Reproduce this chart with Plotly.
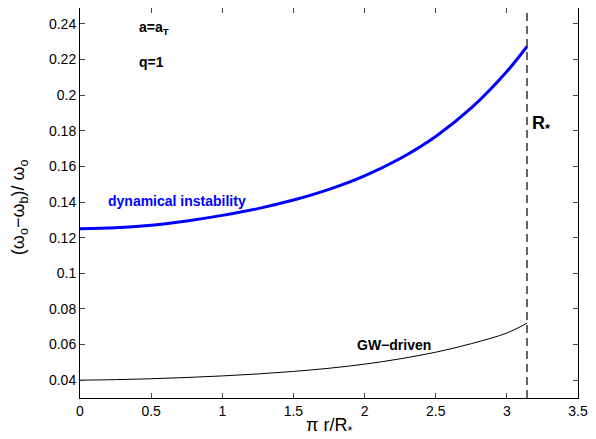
import math
import plotly.graph_objects as go

# pi r / R_*  sample points
x_pts = [0, 0.25, 0.5, 0.75, 1.0, 1.25, 1.5, 1.75, 2.0, 2.25, 2.5, 2.75, 3.0, math.pi]
# dynamical instability (blue)
dyn = [0.1250, 0.1255, 0.1270, 0.1294, 0.1325, 0.1363, 0.1411, 0.1471, 0.1547, 0.1644, 0.1768, 0.1928, 0.2133, 0.2273]
# GW-driven (black)
gw = [0.0400, 0.0403, 0.0408, 0.0415, 0.0424, 0.0435, 0.0449, 0.0467, 0.0490, 0.0520, 0.0557, 0.0605, 0.0665, 0.0720]

rstar = [math.pi, math.pi]
rstar_y = [0.03, 0.25]

xticks = [0, 0.5, 1, 1.5, 2, 2.5, 3, 3.5]
xlabels = ["0", "0.5", "1", "1.5", "2", "2.5", "3", "3.5"]
yticks = [0.04, 0.06, 0.08, 0.1, 0.12, 0.14, 0.16, 0.18, 0.2, 0.22, 0.24]
ylabels = ["0.04", "0.06", "0.08", "0.1", "0.12", "0.14", "0.16", "0.18", "0.2", "0.22", "0.24"]

fig = go.Figure()
fig.add_trace(go.Scatter(x=x_pts, y=dyn, mode="lines", line=dict(color="#0000ff", width=3, shape="spline")))
fig.add_trace(go.Scatter(x=x_pts, y=gw, mode="lines", line=dict(color="black", width=1, shape="spline")))
fig.add_trace(go.Scatter(x=rstar, y=rstar_y, mode="lines", line=dict(color="black", width=1.2, dash="8px,5px")))

font = "Liberation Sans, Arial, sans-serif"
annots = [
    dict(x=0.4, y=0.2375, text="<b>a=a<sub>T</sub></b>", font=dict(size=14, color="black")),
    dict(x=0.4, y=0.2185, text="<b>q=1</b>", font=dict(size=14, color="black")),
    dict(x=0.18, y=0.1405, text="<b>dynamical instability</b>", font=dict(size=14, color="#0000ff")),
    dict(x=1.93, y=0.0597, text="<b>GW\u2212driven</b>", font=dict(size=14, color="black")),
    dict(x=3.16, y=0.1835, text="<b>R<sub>*</sub></b>", font=dict(size=18, color="black")),
]
for a in annots:
    a.update(xref="x", yref="y", showarrow=False, xanchor="left", yanchor="middle")

# axis titles as paper annotations so the plot box stays put
annots.append(dict(xref="paper", yref="paper", x=0.5, y=-0.074, showarrow=False,
                   xanchor="center", yanchor="middle",
                   text="\u03c0 r/R<sub>*</sub>", font=dict(size=18)))
annots.append(dict(xref="paper", yref="paper", x=-0.12, y=0.49, showarrow=False,
                   xanchor="center", yanchor="middle", textangle=-90,
                   text="(\u03c9<sub>o</sub>\u2212\u03c9<sub>b</sub>)/ \u03c9<sub>o</sub>", font=dict(size=18)))

# page body has an 8px margin, so the figure is 8px smaller and shifted
fig.update_layout(
    width=588, height=431,
    margin=dict(l=72, r=18, t=0, b=41),
    paper_bgcolor="white", plot_bgcolor="white",
    showlegend=False,
    font=dict(family=font, size=14, color="black"),
    annotations=annots,
    xaxis=dict(range=[0, 3.5], tickvals=xticks, ticktext=xlabels, ticks="inside", ticklen=5,
               showline=True, linecolor="black", linewidth=1, mirror="ticks", showgrid=False,
               zeroline=False, automargin=False),
    yaxis=dict(range=[0.03, 0.2489], tickvals=yticks, ticktext=ylabels, ticks="inside", ticklen=5,
               showline=True, linecolor="black", linewidth=1, mirror="ticks", showgrid=False,
               zeroline=False, automargin=False),
)

fig.write_html("out.html")
